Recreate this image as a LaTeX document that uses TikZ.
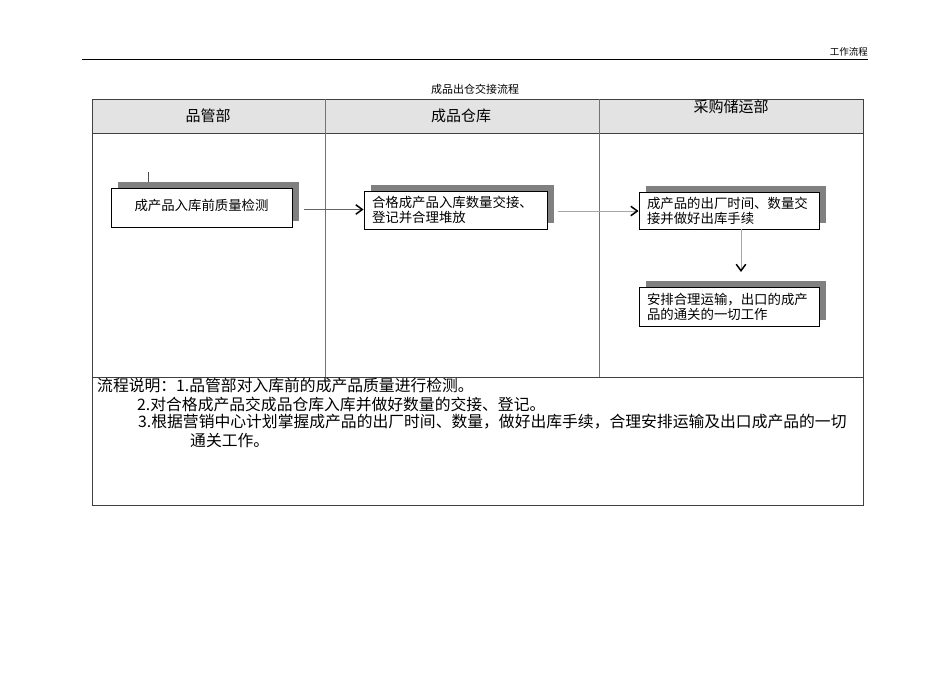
\documentclass[tikz,border=0pt]{standalone}
\usepackage{fontspec}
\setmainfont{Noto Sans CJK SC}
\usetikzlibrary{arrows.meta,shadows}
\begin{document}
\begin{tikzpicture}[x=1pt,y=-1pt,
  tbl/.style={draw=black!75, line width=0.8pt},
  lane/.style={draw=black!55, line width=0.7pt},
  hdr/.style={font=\fontsize{15}{17}\selectfont, inner sep=0pt},
  note/.style={font=\fontsize{15.8}{18}\selectfont, inner sep=0pt, anchor=base west},
  box/.style={draw=black, line width=0.9pt, fill=white, inner sep=0pt,
    font=\fontsize{13.4}{15}\selectfont,
    drop shadow={shadow xshift=7pt, shadow yshift=6.5pt, fill=black!50, opacity=1}},
  tbox/.style={box, align=left, text width=164pt, inner xsep=8pt},
  arr/.style={line width=0.6pt, -{Straight Barb[length=6.5pt,width=9.5pt,line width=1.5pt,color=black]}}
]
\useasboundingbox (0,0) rectangle (950,672);
% page header
\draw[line width=0.9pt] (82,59) -- (868,59);
\node[font=\fontsize{9.5}{11}\selectfont, anchor=east, inner sep=0pt] (pagehdr) at (868,52) {工作流程};
\node[font=\fontsize{11}{13}\selectfont, inner sep=0pt] (title) at (475,89) {成品出仓交接流程};
% table
\fill[black!11] (92,99) rectangle (863,133);
\draw[tbl] (92,99) rectangle (863,505);
\draw[tbl, line width=1pt] (92,133) -- (863,133);
\draw[tbl] (92,377) -- (863,377);
\draw[lane] (325,99) -- (325,377);
\draw[lane] (599,99) -- (599,377);
\node[hdr] (h1) at (208,116) {品管部};
\node[hdr] (h2) at (461,116) {成品仓库};
\node[hdr] (h3) at (731,107) {采购储运部};
% boxes
\node[box, minimum width=181pt, minimum height=39pt] (b1) at (201.5,207.5) {\raisebox{5pt}{成产品入库前质量检测}};
\node[tbox, text width=167pt, minimum height=38pt] (b2) at (455.5,210) {合格成产品入库数量交接、\\登记并合理堆放};
\node[tbox, minimum height=37pt] (b3) at (729,210.5) {成产品的出厂时间、数量交\\接并做好出库手续};
\node[tbox, minimum height=39pt] (b4) at (729,306.5) {安排合理运输，出口的成产\\品的通关的一切工作};
% small tick above box 1
\coordinate (t1a) at (148,172);
\coordinate (t1b) at (148,182);
\draw[line width=0.6pt, black!70] (t1a) -- (t1b);
% arrows
\coordinate (a1s) at (304,209.5);
\draw[arr, draw=black!60] (a1s) -- (b2.west |- a1s);
\coordinate (a2s) at (558,211);
\draw[arr, draw=black!35] (a2s) -- (b3.west |- a2s);
\coordinate (a3s) at (741,229);
\coordinate (a3e) at (741,272);
\draw[arr, draw=black!35] (a3s) -- (a3e);
% notes
\node[note] (n1) at (97,391.5) {流程说明：1.品管部对入库前的成产品质量进行检测。};
\node[note] (n2) at (137,410.5) {2.对合格成产品交成品仓库入库并做好数量的交接、登记。};
\node[note] (n3) at (138,427.5) {3.根据营销中心计划掌握成产品的出厂时间、数量，做好出库手续，合理安排运输及出口成产品的一切};
\node[note] (n4) at (190,446.5) {通关工作。};
\end{tikzpicture}
\end{document}
